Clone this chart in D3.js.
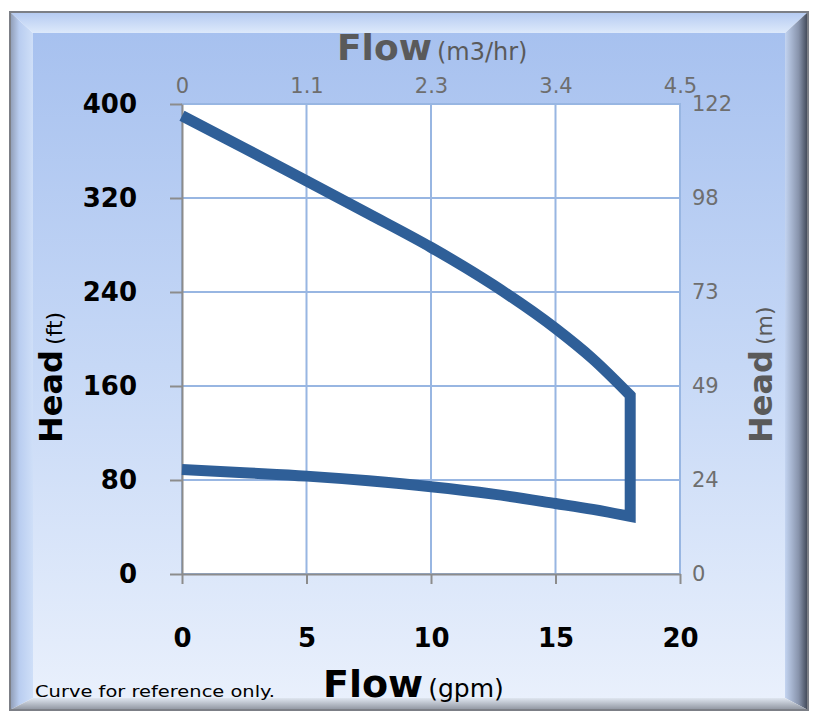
<!DOCTYPE html>
<html>
<head>
<meta charset="utf-8">
<script src="https://cdn.jsdelivr.net/npm/d3@7"></script>
<style>
  body { margin: 0; background: #fff; }
  svg { display: block; font-family: "DejaVu Sans", sans-serif; }
</style>
</head>
<body>
<svg id="chart" width="816" height="715"></svg>
<script>
// pump curve
const flowGpm = [0, 2.5, 5, 7.5, 10, 12.5, 15, 16.5, 18];
const headMax = [390, 362.5, 334.5, 306.5, 278, 246, 209, 183, 152];
const headMin = [89, 86.2, 83.3, 79.3, 74.3, 68, 60, 55, 49];

const gpmTicks = [0, 5, 10, 15, 20];
const m3hrLabels = ["0", "1.1", "2.3", "3.4", "4.5"];
const ftTicks = [0, 80, 160, 240, 320, 400];
const mLabels = ["0", "24", "49", "73", "98", "122"];

const CONFIG = {
  plot: { left: 182, right: 680, top: 104, bottom: 574 },
  frame: { x0: 10, y0: 12, x1: 808, y1: 710, l: 23, t: 21, r: 23, b: 12 },
  colors: {
    curve: "#2f5f98",
    grid: "#98b6e2",
    axis: "#8c8c8c",
    grayText: "#6e6e6e",
    title: "#5a5a5a"
  }
};

const svg = d3.select("#chart");
const defs = svg.append("defs");

function addGradient(id, x2, y2, stops) {
  const g = defs.append("linearGradient")
    .attr("id", id)
    .attr("x1", 0).attr("y1", 0)
    .attr("x2", x2).attr("y2", y2);
  stops.forEach((s) => {
    g.append("stop").attr("offset", s[0]).attr("stop-color", s[1]);
  });
}

addGradient("face", 0, 1, [[0, "#a7c1ef"], [0.5, "#c6d8f6"], [1, "#e9f0fc"]]);
addGradient("bevTop", 0, 1, [[0, "#b4caf1"], [1, "#dde9fb"]]);
addGradient("bevLeft", 1, 0, [[0, "#8e9bb4"], [0.4, "#b9cdf0"], [1, "#cfdff8"]]);
addGradient("bevRight", 1, 0, [[0, "#c3d4f1"], [0.6, "#8793ab"], [1, "#3d4453"]]);
addGradient("bevBottom", 0, 1, [[0, "#dfe6f0"], [1, "#8d939e"]]);

// bevelled frame
const f = CONFIG.frame;
const ix0 = f.x0 + f.l, iy0 = f.y0 + f.t, ix1 = f.x1 - f.r, iy1 = f.y1 - f.b;

svg.append("rect")
  .attr("x", ix0).attr("y", iy0)
  .attr("width", ix1 - ix0).attr("height", iy1 - iy0)
  .attr("fill", "url(#face)");

const bevels = [
  { fill: "url(#bevTop)", pts: [[f.x0, f.y0], [f.x1, f.y0], [ix1, iy0], [ix0, iy0]] },
  { fill: "url(#bevLeft)", pts: [[f.x0, f.y0], [ix0, iy0], [ix0, iy1], [f.x0, f.y1]] },
  { fill: "url(#bevRight)", pts: [[f.x1, f.y0], [f.x1, f.y1], [ix1, iy1], [ix1, iy0]] },
  { fill: "url(#bevBottom)", pts: [[f.x0, f.y1], [ix0, iy1], [ix1, iy1], [f.x1, f.y1]] }
];

svg.selectAll("polygon.bevel")
  .data(bevels)
  .enter()
  .append("polygon")
  .classed("bevel", true)
  .attr("points", (d) => d.pts.map((p) => p.join(",")).join(" "))
  .attr("fill", (d) => d.fill);

svg.append("rect")
  .attr("x", f.x0).attr("y", f.y0)
  .attr("width", f.x1 - f.x0).attr("height", f.y1 - f.y0)
  .attr("fill", "none")
  .attr("stroke", "#7c7f86")
  .attr("stroke-width", 2);

// scales
const p = CONFIG.plot;
const x = d3.scaleLinear().domain([0, 20]).range([p.left, p.right]);
const y = d3.scaleLinear().domain([0, 400]).range([p.bottom, p.top]);

svg.append("rect")
  .attr("x", p.left).attr("y", p.top)
  .attr("width", p.right - p.left).attr("height", p.bottom - p.top)
  .attr("fill", "#fff")
  .attr("stroke", CONFIG.colors.grid)
  .attr("stroke-width", 2);

// grid
svg.append("g")
  .selectAll("line")
  .data(gpmTicks.slice(1, -1))
  .enter()
  .append("line")
  .attr("x1", (d) => x(d)).attr("x2", (d) => x(d))
  .attr("y1", p.top).attr("y2", p.bottom)
  .attr("stroke", CONFIG.colors.grid)
  .attr("stroke-width", 2);

svg.append("g")
  .selectAll("line")
  .data(ftTicks.slice(1, -1))
  .enter()
  .append("line")
  .attr("x1", p.left).attr("x2", p.right)
  .attr("y1", (d) => y(d)).attr("y2", (d) => y(d))
  .attr("stroke", CONFIG.colors.grid)
  .attr("stroke-width", 2);

// left axis (ft)
const leftAxis = svg.append("g")
  .attr("transform", "translate(" + p.left + ",0)")
  .call(d3.axisLeft(y).tickValues(ftTicks).tickSize(12).tickPadding(33).tickSizeOuter(0));

leftAxis.selectAll("text")
  .attr("font-family", "DejaVu Sans")
  .attr("font-size", 26)
  .attr("font-weight", "bold")
  .attr("fill", "#000");

// bottom axis (gpm)
const bottomAxis = svg.append("g")
  .attr("transform", "translate(0," + p.bottom + ")")
  .call(d3.axisBottom(x).tickValues(gpmTicks).tickSize(10).tickSizeOuter(0));

bottomAxis.selectAll("text")
  .attr("y", 73)
  .attr("dy", 0)
  .attr("font-family", "DejaVu Sans")
  .attr("font-size", 26)
  .attr("font-weight", "bold")
  .attr("fill", "#000");

[leftAxis, bottomAxis].forEach((a) => {
  a.selectAll("line, path")
    .attr("stroke", CONFIG.colors.axis)
    .attr("stroke-width", 2);
});

// top axis (m3/hr)
const topAxis = svg.append("g")
  .attr("transform", "translate(0," + p.top + ")")
  .call(d3.axisTop(x).tickValues(gpmTicks).tickFormat((d, i) => m3hrLabels[i]).tickSize(0).tickPadding(11));

// right axis (m)
const rightAxis = svg.append("g")
  .attr("transform", "translate(" + p.right + ",0)")
  .call(d3.axisRight(y).tickValues(ftTicks).tickFormat((d, i) => mLabels[i]).tickSize(0).tickPadding(12));

[topAxis, rightAxis].forEach((a) => {
  a.select(".domain").remove();
  a.selectAll("text")
    .attr("font-family", "DejaVu Sans")
    .attr("font-size", 21)
    .attr("fill", CONFIG.colors.grayText);
});

// curve: top line, drop at max flow, back along bottom line
const line = d3.line()
  .x((d) => x(d[0]))
  .y((d) => y(d[1]))
  .curve(d3.curveMonotoneX);

const topPts = flowGpm.map((g, i) => [g, headMax[i]]);
const lowPts = flowGpm.map((g, i) => [g, headMin[i]]).reverse();

svg.append("path")
  .attr("d", line(topPts) + line(lowPts).replace(/^M/, "L"))
  .attr("fill", "none")
  .attr("stroke", CONFIG.colors.curve)
  .attr("stroke-width", 11)
  .attr("stroke-linejoin", "miter");

// titles
function addTitle(tx, ty, rot, big, small, color, bigSize, smallSize) {
  const t = svg.append("text")
    .attr("transform", "translate(" + tx + "," + ty + ") rotate(" + rot + ")")
    .attr("fill", color);
  t.append("tspan")
    .attr("font-size", bigSize)
    .attr("font-weight", "bold")
    .text(big);
  t.append("tspan")
    .attr("dx", 5)
    .attr("font-size", smallSize)
    .text(small);
}

addTitle(337, 60, 0, "Flow", "(m3/hr)", CONFIG.colors.title, 36, 24);
addTitle(323, 697, 0, "Flow", "(gpm)", "#000", 38, 25);
addTitle(62, 443, -90, "Head", "(ft)", "#000", 32, 22);
addTitle(772, 443, -90, "Head", "(m)", CONFIG.colors.title, 32, 22);

svg.append("text")
  .attr("x", 35)
  .attr("y", 697)
  .attr("font-size", 15.5)
  .attr("textLength", 240)
  .attr("lengthAdjust", "spacingAndGlyphs")
  .attr("fill", "#000")
  .text("Curve for reference only.");
</script>
</body>
</html>
